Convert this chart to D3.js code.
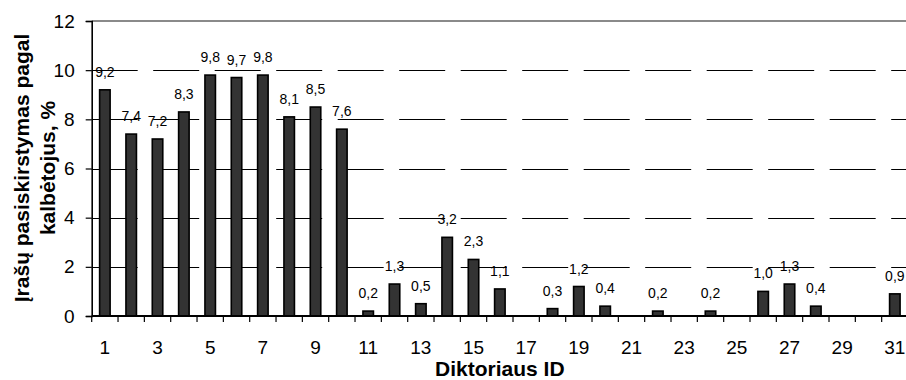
<!DOCTYPE html>
<html>
<head>
<meta charset="utf-8">
<script src="https://cdn.jsdelivr.net/npm/d3@7"></script>
<style>
  html, body { margin: 0; padding: 0; background: #fff; }
  svg { display: block; font-family: "Liberation Sans", Arial, sans-serif; }
</style>
</head>
<body>
<svg id="chart" width="906" height="380"></svg>
<script>
// Speaker IDs and the share of recordings per speaker (%); null = no recordings
const speakerIds = d3.range(1, 32);
const shares = [9.2, 7.4, 7.2, 8.3, 9.8, 9.7, 9.8, 8.1, 8.5, 7.6,
                0.2, 1.3, 0.5, 3.2, 2.3, 1.1, null, 0.3, 1.2, 0.4,
                null, 0.2, null, 0.2, null, 1.0, 1.3, 0.4, null, null, 0.9];
const yTickValues = [0, 2, 4, 6, 8, 10, 12];
const xLabelIds = speakerIds.filter(d => d % 2 === 1);
const yTitleLines = ["Įrašų pasiskirstymas pagal", "kalbėtojus, %"];
const xTitle = "Diktoriaus ID";

const svg = d3.select("#chart");
const plot = { left: 91.7, right: 908, top: 21, bottom: 316 };

const x = d3.scaleBand().domain(speakerIds).range([plot.left, plot.right]).padding(0);
const y = d3.scaleLinear().domain([0, 12]).range([plot.bottom, plot.top]);
const fmt = v => d3.format(".1f")(v).replace(".", ",");

// Dashed horizontal gridlines
svg.append("g").selectAll("line")
  .data(yTickValues.filter(v => v > 0 && v < 12))
  .join("line")
  .attr("x1", plot.left).attr("x2", plot.right)
  .attr("y1", d => Math.round(y(d)) + 0.5).attr("y2", d => Math.round(y(d)) + 0.5)
  .attr("stroke", "#000").attr("stroke-width", 1)
  .attr("stroke-dasharray", "46,15.5");

// Top border of the plot area
svg.append("line")
  .attr("x1", plot.left).attr("x2", plot.right)
  .attr("y1", y(12)).attr("y2", y(12))
  .attr("stroke", "#8a8a8a").attr("stroke-width", 2);

// Bars
const barW = 10.5;
const data = speakerIds.map((id, i) => ({ id, v: shares[i] })).filter(d => d.v !== null);
svg.append("g").selectAll("rect")
  .data(data)
  .join("rect")
  .attr("x", d => x(d.id) + x.bandwidth() / 2 - barW / 2)
  .attr("y", d => y(d.v))
  .attr("width", barW)
  .attr("height", d => y(0) - y(d.v))
  .attr("fill", "#333333")
  .attr("stroke", "#000")
  .attr("stroke-width", 1.6);

// Value labels
svg.append("g").selectAll("text")
  .data(data)
  .join("text")
  .attr("x", d => x(d.id) + x.bandwidth() / 2)
  .attr("y", d => y(d.v) - 13)
  .attr("text-anchor", "middle")
  .attr("font-size", 14)
  .attr("fill", "#000")
  .text(d => fmt(d.v));

// Y axis
const yAxis = svg.append("g")
  .attr("transform", `translate(${plot.left},0)`)
  .call(d3.axisLeft(y).tickValues(yTickValues).tickSize(6).tickPadding(11).tickFormat(d3.format("d")));
yAxis.select(".domain").attr("stroke", "#000").attr("stroke-width", 1.6);
yAxis.selectAll(".tick line").attr("stroke", "#000").attr("stroke-width", 1.2);
yAxis.selectAll("text").attr("font-size", 19).attr("fill", "#000")
  .attr("font-family", "'Liberation Sans', Arial, sans-serif");

// X axis line and category boundary ticks
svg.append("line")
  .attr("x1", plot.left).attr("x2", plot.right)
  .attr("y1", y(0)).attr("y2", y(0))
  .attr("stroke", "#000").attr("stroke-width", 2);
const boundaries = speakerIds.map(id => x(id)).concat([x.range()[1]]);
svg.append("g").selectAll("line")
  .data(boundaries)
  .join("line")
  .attr("x1", d => d).attr("x2", d => d)
  .attr("y1", y(0)).attr("y2", y(0) + 6)
  .attr("stroke", "#000").attr("stroke-width", 1.2);

// X tick labels for odd IDs
const xAxis = svg.append("g")
  .attr("transform", `translate(0,${plot.bottom})`)
  .call(d3.axisBottom(x).tickValues(xLabelIds).tickSize(0).tickPadding(22));
xAxis.select(".domain").remove();
xAxis.selectAll("text").attr("font-size", 19).attr("fill", "#000")
  .attr("font-family", "'Liberation Sans', Arial, sans-serif")
  .attr("dy", null).attr("y", 38);

// Axis titles
svg.append("text")
  .attr("x", (plot.left + plot.right) / 2)
  .attr("y", 376)
  .attr("text-anchor", "middle")
  .attr("font-size", 21).attr("font-weight", "bold")
  .text(xTitle);

const yTitle = svg.append("text")
  .attr("transform", "translate(28.5,168) rotate(-90)")
  .attr("text-anchor", "middle")
  .attr("font-size", 21).attr("font-weight", "bold");
yTitle.selectAll("tspan")
  .data(yTitleLines)
  .join("tspan")
  .attr("x", 0)
  .attr("dy", (d, i) => i === 0 ? 0 : 26.5)
  .text(d => d);
</script>
</body>
</html>
